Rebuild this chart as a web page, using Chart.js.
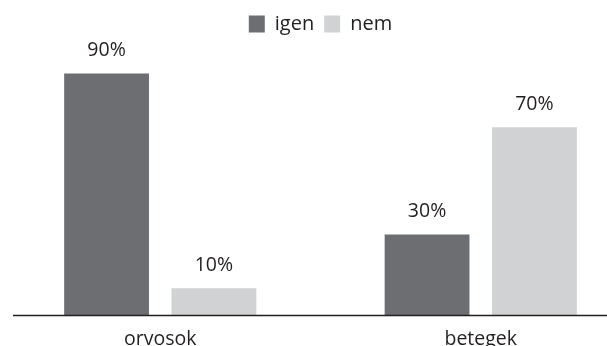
<!DOCTYPE html>
<html>
<head>
<meta charset="utf-8">
<script src="https://cdn.jsdelivr.net/npm/chart.js@4"></script>
<style>
  html, body { margin: 0; padding: 0; background: #fff; overflow: hidden; }
  #wrap { position: relative; width: 641px; height: 346px; }
</style>
</head>
<body>
<div id="wrap"><canvas id="c"></canvas></div>
<script>
'use strict';

const categories = ['orvosok', 'betegek'];
const seriesNames = ['igen', 'nem'];
const igenValues = [90, 30];
const nemValues = [10, 70];

const darkGray = '#6d6e71';
const lightGray = '#d1d2d4';
const inkColor = '#231f20';
const fontFamily = '"Open Sans", "Noto Sans", sans-serif';

// value labels above each bar
const valueLabels = {
    id: 'valueLabels',
    afterDatasetsDraw (chart)
    {
        const ctx = chart.ctx;
        ctx.save();
        ctx.font = '19.5px ' + fontFamily;
        ctx.fillStyle = inkColor;
        ctx.textAlign = 'center';
        ctx.textBaseline = 'middle';
        chart.data.datasets.forEach((ds, i) =>
        {
            chart.getDatasetMeta(i).data.forEach((bar, j) =>
            {
                ctx.fillText(ds.data[j] + '%', bar.x, bar.y - 23);
            });
        });
        ctx.restore();
    }
};

// baseline under the bars
const baseLine = {
    id: 'baseLine',
    afterDatasetsDraw (chart)
    {
        const ctx = chart.ctx;
        const y = Math.round(chart.scales.y.getPixelForValue(0)) + 0.5;
        ctx.save();
        ctx.strokeStyle = inkColor;
        ctx.lineWidth = 1.3;
        ctx.beginPath();
        ctx.moveTo(13, y);
        ctx.lineTo(chart.width, y);
        ctx.stroke();
        ctx.restore();
    }
};

new Chart(document.getElementById('c'), {
    type: 'bar',
    data: {
        labels: categories,
        datasets: [
            { label: seriesNames[0], data: igenValues, backgroundColor: darkGray },
            { label: seriesNames[1], data: nemValues, backgroundColor: lightGray }
        ]
    },
    options: {
        responsive: true,
        maintainAspectRatio: false,
        animation: false,
        categoryPercentage: 0.67,
        barPercentage: 0.79,
        layout: { padding: { left: 0, right: 0, top: 4, bottom: 0 } },
        plugins: {
            legend: {
                position: 'top',
                labels: {
                    boxWidth: 16,
                    boxHeight: 17,
                    padding: 10,
                    color: inkColor,
                    font: { family: fontFamily, size: 20 }
                }
            },
            tooltip: { enabled: false }
        },
        scales: {
            x: {
                grid: { display: false, drawTicks: false, tickLength: 0 },
                border: { display: false },
                afterFit (scale) { scale.height = 31; },
                ticks: {
                    color: inkColor,
                    padding: 13,
                    font: { family: fontFamily, size: 19.5 }
                }
            },
            y: {
                display: false,
                min: 0,
                max: 101
            }
        }
    },
    plugins: [valueLabels, baseLine]
});
</script>
</body>
</html>
